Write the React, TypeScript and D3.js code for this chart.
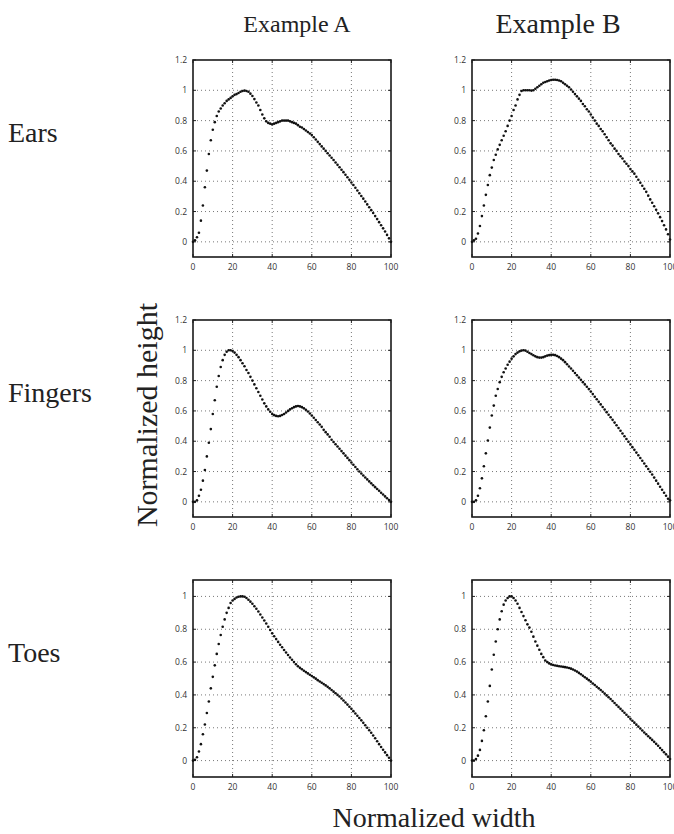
import * as d3 from 'd3';
import React from 'react';

// Row / column labels
const rowLabels = ['Ears', 'Fingers', 'Toes'];
const colLabels = ['Example A', 'Example B'];

// Tick values
const xTicks = [0, 20, 40, 60, 80, 100];
const yTicksTall = [0, 0.2, 0.4, 0.6, 0.8, 1, 1.2];
const yTicksShort = [0, 0.2, 0.4, 0.6, 0.8, 1];

// Normalized height at normalized width 0..100 (one sample per unit)
const earsA = [
    0.00, 0.01, 0.03, 0.06, 0.14, 0.24, 0.36, 0.47, 0.58, 0.67,
    0.74, 0.79, 0.83, 0.86, 0.88, 0.90, 0.915, 0.93, 0.94, 0.95,
    0.96, 0.97, 0.975, 0.982, 0.99, 0.995, 0.998, 0.995, 0.99, 0.978,
    0.962, 0.942, 0.92, 0.90, 0.87, 0.84, 0.815, 0.795, 0.785, 0.78,
    0.775, 0.78, 0.785, 0.79, 0.795, 0.80, 0.80, 0.80, 0.80, 0.795,
    0.79, 0.785, 0.78, 0.77, 0.76, 0.755, 0.745, 0.735, 0.725, 0.715,
    0.705, 0.69, 0.675, 0.66, 0.645, 0.63, 0.615, 0.60, 0.585, 0.57,
    0.555, 0.54, 0.524, 0.508, 0.492, 0.476, 0.46, 0.443, 0.426, 0.409,
    0.392, 0.375, 0.357, 0.339, 0.321, 0.303, 0.285, 0.266, 0.247, 0.228,
    0.209, 0.19, 0.17, 0.15, 0.13, 0.11, 0.089, 0.068, 0.046, 0.023,
    0.00,
];

const earsB = [
    0.00, 0.01, 0.02, 0.055, 0.105, 0.17, 0.24, 0.31, 0.375, 0.44,
    0.49, 0.54, 0.575, 0.61, 0.64, 0.67, 0.70, 0.73, 0.765, 0.80,
    0.83, 0.87, 0.90, 0.94, 0.97, 0.995, 1.0, 1.0, 1.0, 1.0,
    0.998, 1.0, 1.01, 1.02, 1.03, 1.04, 1.05, 1.055, 1.06, 1.065,
    1.068, 1.07, 1.07, 1.068, 1.065, 1.06, 1.05, 1.04, 1.03, 1.02,
    1.005, 0.99, 0.975, 0.96, 0.945, 0.93, 0.91, 0.895, 0.875, 0.86,
    0.84, 0.82, 0.80, 0.78, 0.765, 0.745, 0.73, 0.71, 0.69, 0.67,
    0.65, 0.635, 0.615, 0.60, 0.58, 0.565, 0.55, 0.53, 0.515, 0.50,
    0.48, 0.465, 0.45, 0.43, 0.41, 0.39, 0.37, 0.35, 0.33, 0.305,
    0.28, 0.258, 0.235, 0.212, 0.188, 0.163, 0.137, 0.11, 0.082, 0.05,
    0.015,
];

const fingersA = [
    0.00, 0.00, 0.01, 0.04, 0.08, 0.14, 0.21, 0.30, 0.39, 0.48,
    0.58, 0.67, 0.76, 0.83, 0.89, 0.935, 0.97, 0.99, 1.0, 1.0,
    0.995, 0.985, 0.97, 0.955, 0.935, 0.915, 0.895, 0.87, 0.85, 0.825,
    0.80, 0.775, 0.75, 0.725, 0.70, 0.675, 0.65, 0.63, 0.61, 0.595,
    0.58, 0.572, 0.567, 0.565, 0.567, 0.573, 0.58, 0.59, 0.60, 0.61,
    0.618, 0.625, 0.63, 0.632, 0.63, 0.625, 0.617, 0.607, 0.596, 0.583,
    0.57, 0.555, 0.54, 0.525, 0.51, 0.495, 0.475, 0.46, 0.445, 0.43,
    0.41, 0.395, 0.38, 0.365, 0.35, 0.335, 0.32, 0.305, 0.29, 0.275,
    0.26, 0.245, 0.23, 0.215, 0.20, 0.187, 0.174, 0.161, 0.148, 0.135,
    0.122, 0.11, 0.097, 0.085, 0.073, 0.06, 0.048, 0.036, 0.024, 0.012,
    0.00,
];

const fingersB = [
    0.00, 0.00, 0.01, 0.04, 0.09, 0.155, 0.235, 0.32, 0.405, 0.49,
    0.57, 0.635, 0.70, 0.745, 0.79, 0.825, 0.855, 0.88, 0.905, 0.925,
    0.945, 0.96, 0.975, 0.985, 0.993, 0.998, 1.0, 0.998, 0.99, 0.982,
    0.975, 0.967, 0.96, 0.955, 0.952, 0.952, 0.955, 0.96, 0.965, 0.968,
    0.97, 0.97, 0.968, 0.962, 0.955, 0.945, 0.935, 0.922, 0.908, 0.893,
    0.88, 0.865, 0.85, 0.835, 0.82, 0.805, 0.79, 0.775, 0.76, 0.744,
    0.728, 0.711, 0.694, 0.677, 0.66, 0.643, 0.626, 0.609, 0.592, 0.575,
    0.558, 0.541, 0.523, 0.505, 0.487, 0.469, 0.451, 0.433, 0.415, 0.397,
    0.379, 0.361, 0.343, 0.325, 0.307, 0.289, 0.271, 0.253, 0.235, 0.217,
    0.199, 0.18, 0.16, 0.14, 0.12, 0.10, 0.08, 0.06, 0.04, 0.02,
    0.01,
];

const toesA = [
    0.00, 0.005, 0.02, 0.055, 0.10, 0.16, 0.22, 0.29, 0.36, 0.44,
    0.51, 0.58, 0.65, 0.71, 0.765, 0.815, 0.86, 0.90, 0.93, 0.96,
    0.975, 0.985, 0.993, 0.998, 1.0, 1.0, 0.998, 0.99, 0.98, 0.968,
    0.955, 0.94, 0.925, 0.908, 0.89, 0.872, 0.853, 0.835, 0.815, 0.795,
    0.775, 0.757, 0.74, 0.723, 0.706, 0.69, 0.674, 0.658, 0.643, 0.628,
    0.614, 0.60, 0.587, 0.575, 0.565, 0.556, 0.547, 0.539, 0.531, 0.523,
    0.515, 0.507, 0.499, 0.49, 0.482, 0.474, 0.466, 0.458, 0.449, 0.44,
    0.43, 0.42, 0.41, 0.40, 0.39, 0.378, 0.366, 0.354, 0.341, 0.328,
    0.315, 0.301, 0.287, 0.273, 0.259, 0.245, 0.23, 0.215, 0.20, 0.185,
    0.17, 0.153, 0.136, 0.118, 0.10, 0.083, 0.066, 0.05, 0.033, 0.017,
    0.00,
];

const toesB = [
    0.00, 0.00, 0.01, 0.03, 0.065, 0.12, 0.185, 0.27, 0.36, 0.455,
    0.555, 0.645, 0.725, 0.80, 0.86, 0.91, 0.95, 0.975, 0.99, 1.0,
    1.0, 0.99, 0.975, 0.955, 0.93, 0.905, 0.88, 0.855, 0.83, 0.81,
    0.785, 0.755, 0.725, 0.70, 0.675, 0.65, 0.63, 0.61, 0.60, 0.592,
    0.586, 0.582, 0.579, 0.577, 0.575, 0.573, 0.571, 0.569, 0.567, 0.564,
    0.56, 0.555, 0.549, 0.542, 0.534, 0.526, 0.517, 0.508, 0.499, 0.49,
    0.48, 0.47, 0.46, 0.45, 0.44, 0.43, 0.419, 0.408, 0.397, 0.386,
    0.375, 0.363, 0.351, 0.339, 0.327, 0.315, 0.303, 0.291, 0.279, 0.267,
    0.255, 0.243, 0.231, 0.219, 0.207, 0.195, 0.183, 0.171, 0.16, 0.148,
    0.137, 0.126, 0.114, 0.102, 0.09, 0.077, 0.064, 0.051, 0.038, 0.024,
    0.01,
];

const seriesGrid = [
    [earsA, earsB],
    [fingersA, fingersB],
    [toesA, toesB],
];

// Layout
const W = 674;
const H = 834;
const panelLeft = [193, 472];
const panelTop = [60, 320, 580];
const panelW = 198;
const panelH = 197;
const serif = '"Liberation Serif", "Times New Roman", serif';
const sans = '"Open Sans", "DejaVu Sans", sans-serif';

function Panel({ data, left, top, yMax, yTicks }) {
    const x = d3.scaleLinear().domain([0, 100]).range([0, panelW]);
    const y = d3.scaleLinear().domain([-0.1, yMax]).range([panelH, 0]);
    const fmt = (v) => d3.format('~g')(v);

    return (
        <g transform={`translate(${left},${top})`}>
            {/* dotted grid */}
            {xTicks.slice(1, -1).map((t) => (
                <line key={`gx${t}`} x1={x(t)} x2={x(t)} y1={0} y2={panelH}
                    stroke="#555" strokeWidth={0.8} strokeDasharray="1,3" />
            ))}
            {yTicks.filter((t) => y(t) > 1).map((t) => (
                <line key={`gy${t}`} x1={0} x2={panelW} y1={y(t)} y2={y(t)}
                    stroke="#555" strokeWidth={0.8} strokeDasharray="1,3" />
            ))}

            {/* small inward ticks */}
            {xTicks.map((t) => (
                <g key={`tx${t}`}>
                    <line x1={x(t)} x2={x(t)} y1={panelH} y2={panelH - 3} stroke="#222" />
                    <line x1={x(t)} x2={x(t)} y1={0} y2={3} stroke="#222" />
                </g>
            ))}
            {yTicks.map((t) => (
                <g key={`ty${t}`}>
                    <line x1={0} x2={3} y1={y(t)} y2={y(t)} stroke="#222" />
                    <line x1={panelW} x2={panelW - 3} y1={y(t)} y2={y(t)} stroke="#222" />
                </g>
            ))}

            {/* frame */}
            <rect x={0} y={0} width={panelW} height={panelH} fill="none" stroke="#1a1a1a" strokeWidth={1.6} />

            {/* tick labels */}
            {xTicks.map((t) => (
                <text key={`lx${t}`} x={x(t)} y={panelH + 13} textAnchor="middle"
                    fontFamily={sans} fontSize={8.5} fill="#333">{fmt(t)}</text>
            ))}
            {yTicks.map((t) => (
                <text key={`ly${t}`} x={-6} y={y(t) + 3} textAnchor="end"
                    fontFamily={sans} fontSize={8.5} fill="#333">{fmt(t)}</text>
            ))}

            {/* samples */}
            {data.map((v, i) => (
                <circle key={i} cx={x(i)} cy={y(v)} r={1.3} fill="#111" />
            ))}
        </g>
    );
}

export default function App() {
    return (
        <svg width={W} height={H} style={{ position: 'absolute', left: 0, top: 0, background: '#fff' }}>
            <text x={297} y={32} textAnchor="middle" fontFamily={serif} fontSize={24} fill="#222">{colLabels[0]}</text>
            <text x={558} y={33} textAnchor="middle" fontFamily={serif} fontSize={28} fill="#222">{colLabels[1]}</text>

            {rowLabels.map((label, r) => (
                <text key={label} x={8} y={panelTop[r] + 82} fontFamily={serif} fontSize={28} fill="#222">{label}</text>
            ))}

            <text transform="translate(157,415) rotate(-90)" textAnchor="middle"
                fontFamily={serif} fontSize={30} fill="#222">Normalized height</text>
            <text x={434} y={827} textAnchor="middle" fontFamily={serif} fontSize={28} fill="#222">Normalized width</text>

            {seriesGrid.map((row, r) => row.map((data, c) => (
                <Panel key={`${r}-${c}`} data={data} left={panelLeft[c]} top={panelTop[r]}
                    yMax={r === 2 ? 1.1 : 1.2} yTicks={r === 2 ? yTicksShort : yTicksTall} />
            )))}
        </svg>
    );
}
